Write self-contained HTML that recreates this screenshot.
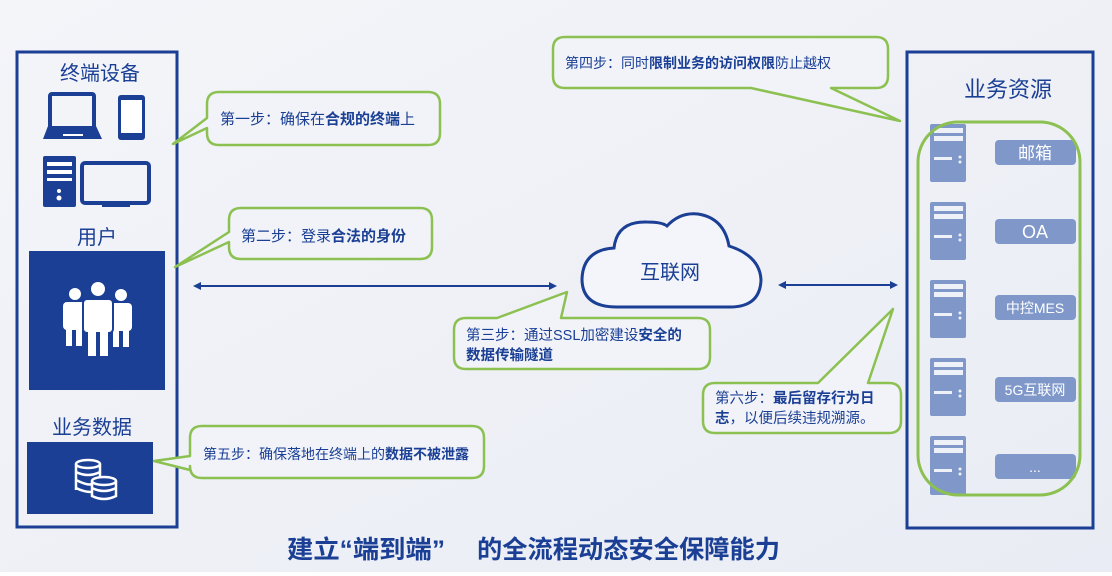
<!DOCTYPE html>
<html><head><meta charset="utf-8"><style>
html,body{margin:0;padding:0;width:1112px;height:576px;overflow:hidden;}
svg{display:block;font-family:"Liberation Sans","Noto Sans CJK SC",sans-serif;}
.t{fill:#1a3f95;font-size:14px;}
.b{font-weight:bold;}
</style></head><body>
<svg width="1112" height="576" viewBox="0 0 1112 576" xmlns="http://www.w3.org/2000/svg">
<defs>
<linearGradient id="bg" x1="0" y1="0" x2="1" y2="1">
<stop offset="0" stop-color="#f4f5f9"/><stop offset="1" stop-color="#e9ecf4"/>
</linearGradient>
</defs>
<rect width="1112" height="576" fill="url(#bg)"/>
<rect x="0" y="572" width="1112" height="4" fill="#fff"/>

<rect x="17" y="52" width="160" height="475" fill="none" stroke="#1a3f95" stroke-width="3"/>
<text x="100" y="80" text-anchor="middle" font-size="20" fill="#1a3f95">终端设备</text>
<rect x="50" y="94" width="44" height="34" rx="2" fill="none" stroke="#1a3f95" stroke-width="4"/>
<path d="M48 126 L96 126 L102 139 L43 139 Z" fill="#1a3f95"/>
<rect x="63" y="134" width="20" height="2" fill="#fff"/>
<rect x="118" y="95" width="27" height="45" rx="3" fill="#1a3f95"/>
<rect x="121" y="100" width="21" height="33" fill="#fff"/>
<rect x="43" y="156" width="33" height="51" rx="2" fill="#1a3f95"/>
<rect x="47" y="162" width="25" height="4" fill="#fff"/>
<rect x="47" y="170" width="25" height="4" fill="#fff"/>
<rect x="47" y="178" width="25" height="3" fill="#fff"/>
<circle cx="59" cy="191" r="2" fill="#fff"/><circle cx="59" cy="198" r="2.5" fill="#fff"/>
<rect x="82" y="163" width="67" height="40" rx="3" fill="none" stroke="#1a3f95" stroke-width="4"/>
<rect x="102" y="203" width="28" height="4" fill="#1a3f95"/>
<text x="97" y="244" text-anchor="middle" font-size="20" fill="#1a3f95">用户</text>
<rect x="29" y="251" width="136" height="139" fill="#1a3f95"/>
<g fill="#fff">
<circle cx="75" cy="294" r="6"/><rect x="63" y="302" width="22" height="28" rx="4"/><rect x="66" y="328" width="6" height="18"/><rect x="76" y="328" width="6" height="18"/>
<circle cx="121" cy="295" r="6"/><rect x="110" y="303" width="22" height="28" rx="4"/><rect x="113" y="329" width="6" height="18"/><rect x="123" y="329" width="6" height="18"/>
<circle cx="98" cy="289" r="7"/><rect x="83" y="299" width="30" height="34" rx="4" stroke="#1a3f95" stroke-width="2"/><rect x="88" y="331" width="8" height="25"/><rect x="100" y="331" width="8" height="25"/>
</g>
<text x="92" y="434" text-anchor="middle" font-size="20" fill="#1a3f95">业务数据</text>
<rect x="27" y="442" width="126" height="72" fill="#1a3f95"/>
<g fill="none" stroke="#fff" stroke-width="2.5">
<ellipse cx="88" cy="464" rx="12" ry="4"/><path d="M76 464 V490 M100 464 V478 M76 472 Q88 478 100 472 M76 480 Q88 486 92 484 M76 488 Q84 492 91 492"/>
<ellipse cx="104" cy="481" rx="12" ry="4"/><path d="M92 481 V496 Q104 502 116 496 V481 M92 488 Q104 494 116 488"/>
</g>

<g fill="#f1f3f8" stroke="#8cc152" stroke-width="2.5" stroke-linejoin="round">
<path d="M219 92 H428 Q440 92 440 104 V133 Q440 145 428 145 H219 Q207 145 207 133 V128 L173 144 L207 118 V104 Q207 92 219 92 Z"/>
<path d="M241 208 H420 Q432 208 432 220 V247 Q432 259 420 259 H241 Q229 259 229 247 V242 L175 267 L229 232 V220 Q229 208 241 208 Z"/>
<path d="M466 318 H497 L567 292 L561 318 H698 Q710 318 710 330 V357 Q710 369 698 369 H466 Q454 369 454 357 V330 Q454 318 466 318 Z"/>
<path d="M565 37 H876 Q888 37 888 49 V76 Q888 88 876 88 H831 L900 121 L751 88 H565 Q553 88 553 76 V49 Q553 37 565 37 Z"/>
<path d="M715 383 H818 L893 309 L868 383 H889 Q901 383 901 395 V421 Q901 433 889 433 H715 Q703 433 703 421 V395 Q703 383 715 383 Z"/>
<path d="M202 426 H472 Q484 426 484 438 V466 Q484 478 472 478 H202 Q190 478 190 466 V470 L154 461 L190 456 V438 Q190 426 202 426 Z"/>
</g>
<text x="220" y="124" class="t" style="font-size:15px">第一步：确保在<tspan class="b">合规的终端</tspan>上</text>
<text x="241" y="241" class="t" style="font-size:15px">第二步：登录<tspan class="b">合法的身份</tspan></text>
<text x="466" y="340" class="t" style="font-size:14.5px">第三步：通过SSL加密建设<tspan class="b">安全的</tspan></text>
<text x="466" y="360" class="t b" style="font-size:14.5px">数据传输隧道</text>
<text x="565" y="68" class="t">第四步：同时<tspan class="b">限制业务的访问权限</tspan>防止越权</text>
<text x="715" y="403" class="t" style="font-size:14.5px">第六步：<tspan class="b">最后留存行为日</tspan></text>
<text x="715" y="423" class="t" style="font-size:14.5px"><tspan class="b">志</tspan>，以便后续违规溯源。</text>
<text x="203" y="459" class="t">第五步：确保落地在终端上的<tspan class="b">数据不被泄露</tspan></text>

<g stroke="#1a3f95" stroke-width="2" fill="#1a3f95">
<line x1="198" y1="286" x2="552" y2="286"/>
<path d="M193 286 L201 282 L201 290 Z" stroke="none"/>
<path d="M557 286 L549 282 L549 290 Z" stroke="none"/>
<line x1="784" y1="285" x2="892" y2="285"/>
<path d="M778 285 L786 281 L786 289 Z" stroke="none"/>
<path d="M898 285 L890 281 L890 289 Z" stroke="none"/>
</g>

<path d="M617 307 Q582 307 582 279 Q583 250 614 248 Q617 221 647 222 Q662 222 667 226 Q680 212 698 214 Q724 218 729 246 Q760 256 761 280 Q760 307 730 307 Z" fill="#f3f5fa" stroke="#1a3f95" stroke-width="3"/>
<text x="670" y="279" text-anchor="middle" font-size="20" fill="#1a3f95">互联网</text>

<rect x="907" y="52" width="186" height="476" fill="none" stroke="#1a3f95" stroke-width="3"/>
<text x="1008" y="97" text-anchor="middle" font-size="22" fill="#1a3f95">业务资源</text>
<g fill="#7f98c9">
<rect x="930" y="124" width="36" height="58" rx="2"/>
<rect x="930" y="202" width="36" height="58" rx="2"/>
<rect x="930" y="280" width="36" height="58" rx="2"/>
<rect x="930" y="358" width="36" height="58" rx="2"/>
<rect x="930" y="436" width="36" height="59" rx="2"/>
<rect x="995" y="140" width="81" height="25" rx="4"/>
<rect x="995" y="219" width="81" height="25" rx="4"/>
<rect x="995" y="295" width="81" height="25" rx="4"/>
<rect x="995" y="377" width="81" height="25" rx="4"/>
<rect x="995" y="454" width="81" height="25" rx="4"/>
</g>
<g fill="#eef1f8">
<rect x="934" y="128" width="29" height="5"/><rect x="934" y="136" width="29" height="5"/><rect x="934" y="157" width="18" height="3"/><circle cx="960" cy="157" r="1.5"/><circle cx="960" cy="162" r="1.5"/>
<rect x="934" y="206" width="29" height="5"/><rect x="934" y="214" width="29" height="5"/><rect x="934" y="235" width="18" height="3"/><circle cx="960" cy="235" r="1.5"/><circle cx="960" cy="240" r="1.5"/>
<rect x="934" y="284" width="29" height="5"/><rect x="934" y="292" width="29" height="5"/><rect x="934" y="313" width="18" height="3"/><circle cx="960" cy="313" r="1.5"/><circle cx="960" cy="318" r="1.5"/>
<rect x="934" y="362" width="29" height="5"/><rect x="934" y="370" width="29" height="5"/><rect x="934" y="391" width="18" height="3"/><circle cx="960" cy="391" r="1.5"/><circle cx="960" cy="396" r="1.5"/>
<rect x="934" y="440" width="29" height="5"/><rect x="934" y="448" width="29" height="5"/><rect x="934" y="469" width="18" height="3"/><circle cx="960" cy="469" r="1.5"/><circle cx="960" cy="474" r="1.5"/>
</g>
<rect x="918" y="122" width="162" height="373" rx="40" fill="none" stroke="#8cc152" stroke-width="3"/>
<g fill="#fff" text-anchor="middle">
<text x="1035" y="159" font-size="17">邮箱</text>
<text x="1035" y="238" font-size="18">OA</text>
<text x="1035" y="313" font-size="14">中控MES</text>
<text x="1035" y="395" font-size="14">5G互联网</text>
<text x="1035" y="472" font-size="14">...</text>
</g>

<g font-size="25" font-weight="bold" fill="#1a3f95">
<text x="287" y="558" textLength="158" lengthAdjust="spacingAndGlyphs">建立“端到端”</text>
<text x="477" y="558" textLength="303" lengthAdjust="spacingAndGlyphs">的全流程动态安全保障能力</text>
</g>
</svg>
</body></html>
